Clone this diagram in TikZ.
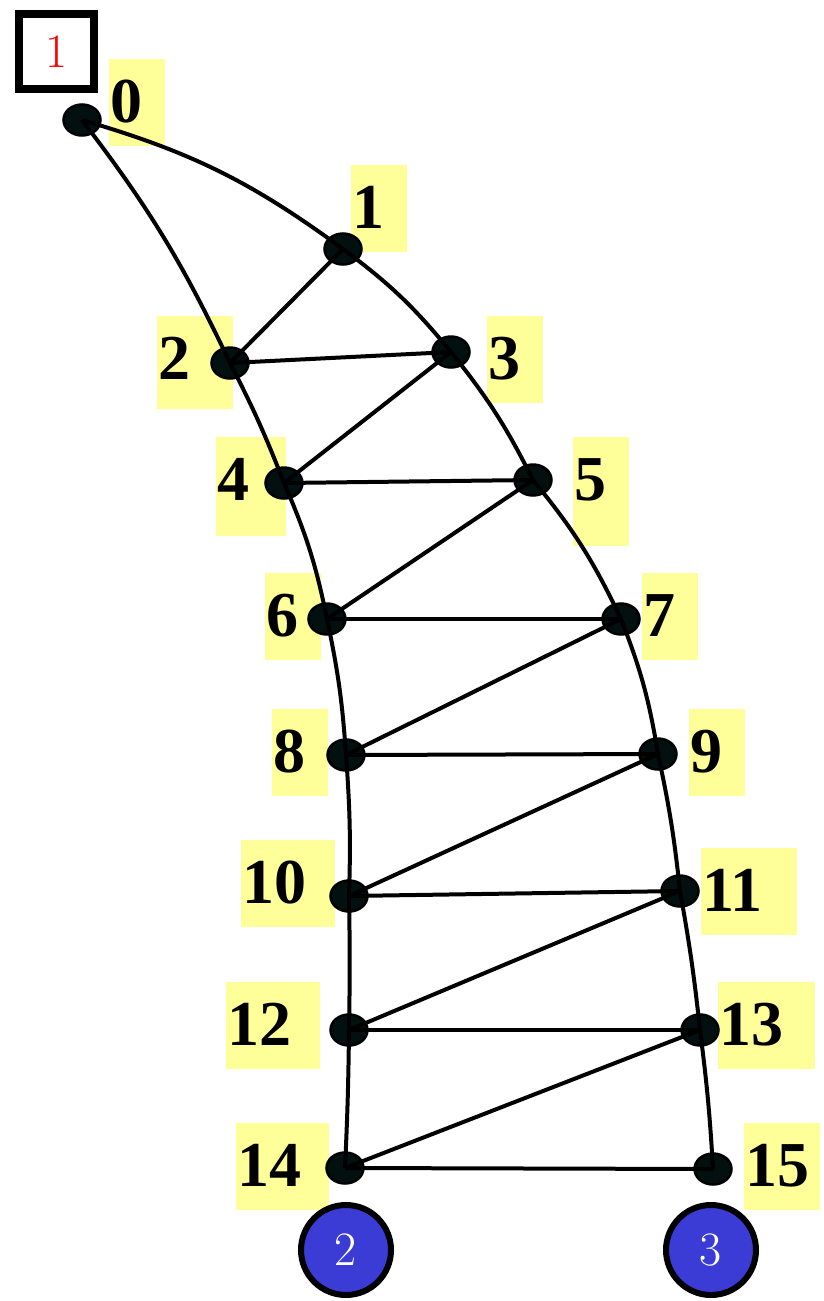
\documentclass[tikz,border=0pt]{standalone}
\usepackage{fontspec}
\newfontfamily\lblfont{Liberation Serif}
\usepackage{tikz}
\usetikzlibrary{shapes.geometric}
\definecolor{lblyellow}{RGB}{255,255,153}
\definecolor{vtxfill}{RGB}{3,16,16}
\definecolor{portblue}{RGB}{59,59,214}
\tikzset{
  vtx/.style={ellipse, draw=black, line width=2.5pt, fill=vtxfill, minimum width=37pt, minimum height=31pt, inner sep=0pt},
  lbl/.style={fill=lblyellow, anchor=north west, inner xsep=1pt, inner ysep=0pt, text height=63pt, text depth=24pt, text width=54pt, align=left, font=\lblfont\bfseries\fontsize{64}{64}\selectfont},
  port/.style={circle, draw=black, line width=6pt, fill=portblue, minimum size=90pt, inner sep=0pt, text=white, font=\fontsize{48}{48}\selectfont},
  link/.style={line width=4pt}
}
\begin{document}
\begin{tikzpicture}[x=1pt,y=-1pt]
\useasboundingbox (0,0) rectangle (823,1301);
\node[draw, line width=8pt, minimum size=75pt, inner sep=0pt, text=red, font=\fontsize{48}{48}\selectfont] (tag) at (56.5,51.5) {1};
% etichette
\node[lbl] (l0) at (109,59) {0};
\node[lbl] (l1) at (351,165) {1};
\node[lbl, text width=74pt, text depth=30pt] (l2) at (157,316) {2};
\node[lbl] (l3) at (487,316) {3};
\node[lbl, text width=68pt, text depth=36pt] (l4) at (216,437) {4};
\node[lbl, text depth=46pt] (l5) at (573,437) {5};
\node[lbl] (l6) at (265,573) {6};
\node[lbl] (l7) at (642,573) {7};
\node[lbl] (l8) at (272,709) {8};
\node[lbl] (l9) at (689,709) {9};
\node[lbl, text width=92pt] (l10) at (241,840) {10};
\node[lbl, text width=94pt] (l11) at (701,848) {11};
\node[lbl, text width=92pt] (l12) at (226,982) {12};
\node[lbl, text width=95pt] (l13) at (718,982) {13};
\node[lbl, text width=91pt] (l14) at (236,1123) {14};
\node[lbl, text width=74pt] (l15) at (744,1123) {15};
% vertici
\node[vtx] (n0) at (82,120) {};
\node[vtx] (n1) at (343,249) {};
\node[vtx] (n2) at (230,363) {};
\node[vtx] (n3) at (451,352) {};
\node[vtx] (n4) at (284,483) {};
\node[vtx] (n5) at (533,480) {};
\node[vtx] (n6) at (327,619) {};
\node[vtx] (n7) at (621,619) {};
\node[vtx] (n8) at (346,755) {};
\node[vtx] (n9) at (658,754) {};
\node[vtx] (n10) at (349,896) {};
\node[vtx] (n11) at (680,891) {};
\node[vtx] (n12) at (349,1030) {};
\node[vtx] (n13) at (700,1030) {};
\node[vtx] (n14) at (345,1168) {};
\node[vtx] (n15) at (713,1169) {};
% bordi curvi
\foreach \a/\b/\ang in {0/1/10,1/3/7,3/5/6,5/7/7,7/9/6,9/11/3,11/13/2,13/15/2,
                       0/2/6,2/4/3,4/6/6,6/8/4,8/10/3,10/12/1,12/14/1}
  \draw[link] (n\a.center) to[bend left=\ang] (n\b.center);
% traverse
\foreach \a/\b in {1/2,2/3,3/4,4/5,5/6,6/7,7/8,8/9,9/10,10/11,11/12,12/13,13/14,14/15}
  \draw[link] (n\a.center) -- (n\b.center);
% porte
\node[port] (p2) at (346,1250) {2};
\node[port] (p3) at (711,1250) {3};
\end{tikzpicture}
\end{document}
